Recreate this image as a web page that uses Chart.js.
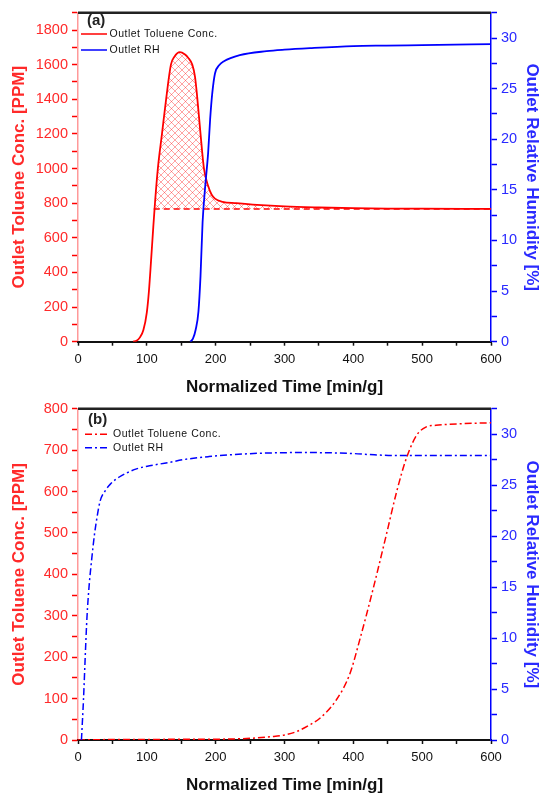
<!DOCTYPE html>
<html>
<head>
<meta charset="utf-8">
<script src="https://cdn.jsdelivr.net/npm/chart.js@4.4.0/dist/chart.umd.min.js"></script>
<style>
  html, body { margin: 0; padding: 0; background: #fff; }
  #wrap { position: relative; width: 540px; height: 797px; }
  canvas { position: absolute; left: 0; }
</style>
</head>
<body>
<div id="wrap">
  <canvas id="chartA" width="540" height="396" style="top:0"></canvas>
  <canvas id="chartB" width="540" height="401" style="top:396px"></canvas>
</div>
<script>
// panel (a): outlet toluene + RH
const timeTolA = [80, 85, 90, 95, 100, 103, 106, 109, 112, 116, 122, 128, 135, 140, 148, 155, 160, 166, 170, 173, 178, 183, 189, 194, 199, 210, 230, 260, 300, 350, 400, 450, 500, 600];
const concTolA = [0, 5, 25, 67, 170, 290, 460, 640, 810, 1000, 1200, 1400, 1600, 1645, 1672, 1660, 1640, 1600, 1530, 1420, 1200, 1000, 900, 850, 826, 808, 800, 790, 781, 775, 771, 769, 768, 767];
const timeRhA = [163, 167, 171, 175, 178, 181, 185, 189, 192, 195, 199, 205, 212, 235, 274, 300, 337, 400, 448, 500, 600];
const rhA = [0, 0.3, 1.2, 3, 6.5, 11.8, 15.5, 18.6, 22, 24.5, 26.5, 27.3, 27.7, 28.3, 28.7, 28.85, 29.0, 29.2, 29.25, 29.3, 29.4];
const baseTimeA = [110, 600];
const baseConcA = [766, 766];
const hatchFromA = 112;

// panel (b)
const timeTolB = [0, 50, 100, 150, 200, 250, 280, 300, 317, 335, 351, 375, 395, 409, 428, 448, 463, 477, 492, 506, 520, 535, 560, 600];
const concTolB = [0, 1, 1, 2, 2, 4, 8, 12, 20, 35, 52, 96, 160, 240, 360, 496, 600, 680, 736, 756, 760, 762, 764, 766];
const timeRhB = [5, 8, 11, 13, 16, 20, 24, 28, 32, 40, 47, 60, 71, 85, 104, 130, 153, 190, 225, 274, 330, 400, 424, 463, 500, 600];
const rhB = [0, 4, 9, 12, 15, 17.8, 20.2, 22, 23.4, 24.5, 25.1, 25.8, 26.2, 26.6, 26.9, 27.2, 27.5, 27.8, 28.0, 28.15, 28.2, 28.1, 28.0, 27.9, 27.9, 27.9];

// tick labels
const timeTicks = [0, 100, 200, 300, 400, 500, 600];
const concTicksA = [0, 200, 400, 600, 800, 1000, 1200, 1400, 1600, 1800];
const concTicksB = [0, 100, 200, 300, 400, 500, 600, 700, 800];
const rhTicks = [0, 5, 10, 15, 20, 25, 30];

const red = '#ff0000';
const blue = '#0000ff';
const redText = '#ff2a2a';
const blueText = '#2a2aff';
const dashDot = [7, 3, 2, 3];

function pairs(xs, ys) {
    return xs.map((x, i) => ({ x: x, y: ys[i] }));
}

function hatchPattern() {
    var c = document.createElement('canvas');
    c.width = 7;
    c.height = 7;
    var g = c.getContext('2d');
    g.strokeStyle = 'rgba(255,0,0,0.45)';
    g.lineWidth = 0.8;
    g.beginPath();
    g.moveTo(0, 0); g.lineTo(7, 7);
    g.moveTo(7, 0); g.lineTo(0, 7);
    g.stroke();
    return g.createPattern(c, 'repeat');
}

// top frame line, panel letter and the little legend
const panelDecor = {
    id: 'panelDecor',
    afterDraw(chart, args, opts) {
        var ctx = chart.ctx;
        var area = chart.chartArea;
        ctx.save();
        ctx.strokeStyle = '#222';
        ctx.lineWidth = 2.5;
        ctx.beginPath();
        ctx.moveTo(area.left, area.top);
        ctx.lineTo(area.right, area.top);
        ctx.stroke();

        ctx.fillStyle = '#222';
        ctx.textBaseline = 'middle';
        ctx.font = 'bold 15px Arial';
        ctx.fillText(opts.letter, opts.letterX, opts.letterY);

        ctx.font = '10.5px Arial';
        ctx.letterSpacing = '0.5px';
        chart.data.datasets.filter(d => d.inLegend).forEach((d, i) => {
            var y = opts.legendY + i * opts.legendGap;
            ctx.strokeStyle = d.borderColor;
            ctx.lineWidth = 1.5;
            ctx.setLineDash(d.borderDash || []);
            ctx.beginPath();
            ctx.moveTo(opts.lineX0, y);
            ctx.lineTo(opts.lineX1, y);
            ctx.stroke();
            ctx.fillStyle = '#111';
            ctx.fillText(d.label, opts.textX, y);
        });
        ctx.restore();
    }
};

function xAxis(height, titlePad) {
    return {
        type: 'linear', position: 'bottom', min: 0, max: 600,
        border: { color: '#111', width: 2 },
        grid: { drawOnChartArea: false, tickLength: 4, tickColor: '#111', tickWidth: 1.5 },
        ticks: {
            stepSize: 50, autoSkip: false, maxRotation: 0, padding: 6, color: '#111',
            font: { family: 'Arial', size: 13 },
            callback: v => timeTicks.includes(v) ? v : ''
        },
        title: {
            display: true, text: 'Normalized Time [min/g]', color: '#111',
            font: { family: 'Arial', size: 17, weight: 'bold', lineHeight: 1 },
            padding: { top: 0, bottom: titlePad }
        },
        afterFit: s => { s.height = height; }
    };
}

function yAxis(pos, max, step, labels) {
    var left = pos === 'left';
    return {
        type: 'linear', position: pos, min: 0, max: max,
        border: { color: left ? 'rgba(255,0,0,0.4)' : blue, width: 1.5 },
        grid: { drawOnChartArea: false, tickLength: 6, tickColor: left ? red : blue, tickWidth: 1.5 },
        ticks: {
            stepSize: step, autoSkip: false, padding: 4, color: left ? redText : blueText,
            font: { family: 'Arial', size: 14.5 },
            callback: v => labels.includes(v) ? v : ''
        },
        title: {
            display: true,
            text: left ? 'Outlet Toluene Conc. [PPM]' : 'Outlet Relative Humidity [%]',
            color: left ? redText : blueText,
            font: { family: 'Arial', size: 17, weight: 'bold', lineHeight: 1 },
            padding: { top: left ? 10.5 : 0, bottom: 0 }
        },
        afterFit: s => { s.width = left ? 78 : 49; }
    };
}

function buildChart(canvasId, datasets, scales, padTop, decor) {
    return new Chart(document.getElementById(canvasId), {
        type: 'line',
        data: { datasets: datasets },
        options: {
            responsive: false,
            animation: false,
            layout: { padding: { top: padTop, left: 0, right: 0, bottom: 0 } },
            elements: { point: { radius: 0 } },
            plugins: {
                legend: { display: false },
                tooltip: { enabled: false },
                panelDecor: decor
            },
            scales: scales
        },
        plugins: [panelDecor]
    });
}

// (a)
buildChart('chartA', [
    {
        label: 'Outlet Toluene Conc.', inLegend: true, order: 2,
        data: pairs(timeTolA, concTolA), yAxisID: 'y',
        borderColor: red, borderWidth: 1.8, cubicInterpolationMode: 'monotone', fill: false
    },
    {
        label: 'Outlet RH', inLegend: true, order: 1,
        data: pairs(timeRhA, rhA), yAxisID: 'y1',
        borderColor: blue, borderWidth: 1.8, cubicInterpolationMode: 'monotone', fill: false
    },
    {
        label: 'baseline', order: 3,
        data: pairs(baseTimeA, baseConcA), yAxisID: 'y',
        borderColor: red, borderWidth: 1.5, borderDash: [6, 4], fill: false
    },
    {
        label: 'hatch', order: 4,
        data: pairs(timeTolA, concTolA).filter(p => p.x >= hatchFromA), yAxisID: 'y',
        borderWidth: 0, borderColor: 'rgba(0,0,0,0)', cubicInterpolationMode: 'monotone',
        backgroundColor: hatchPattern(), fill: { value: baseConcA[0] }
    }
], {
    x: xAxis(54.3, 0),
    y: yAxis('left', 1900, 100, concTicksA),
    y1: yAxis('right', 32.5, 2.5, rhTicks)
}, 8.5, {
    letter: '(a)', letterX: 87, letterY: 21,
    legendY: 34, legendGap: 16, lineX0: 81, lineX1: 107, textX: 109.5
});

// (b)
buildChart('chartB', [
    {
        label: 'Outlet Toluene Conc.', inLegend: true, order: 2,
        data: pairs(timeTolB, concTolB), yAxisID: 'y',
        borderColor: red, borderWidth: 1.5, borderDash: dashDot, cubicInterpolationMode: 'monotone', fill: false
    },
    {
        label: 'Outlet RH', inLegend: true, order: 1,
        data: pairs(timeRhB, rhB), yAxisID: 'y1',
        borderColor: blue, borderWidth: 1.5, borderDash: dashDot, cubicInterpolationMode: 'monotone', fill: false
    }
], {
    x: xAxis(57, 3.5),
    y: yAxis('left', 800, 50, concTicksB),
    y1: yAxis('right', 32.5, 2.5, rhTicks)
}, 10.7, {
    letter: '(b)', letterX: 88, letterY: 24,
    legendY: 38.3, legendGap: 13.4, lineX0: 85, lineX1: 110, textX: 113
});
</script>
</body>
</html>
